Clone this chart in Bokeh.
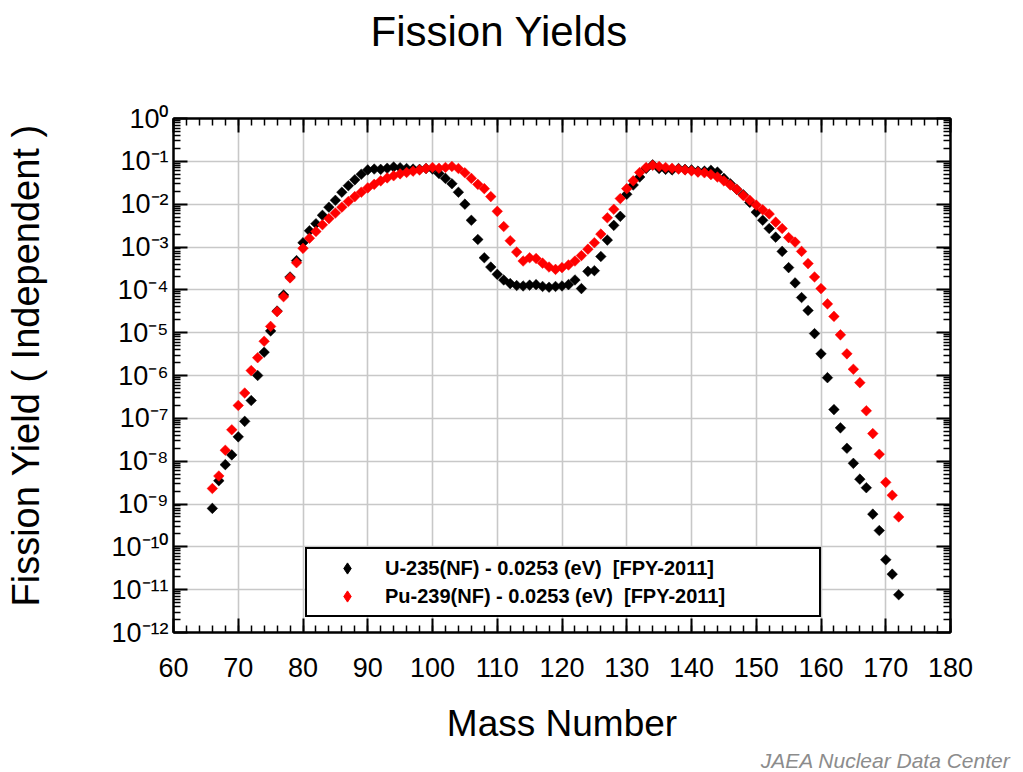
import numpy as np
from bokeh.plotting import figure
from bokeh.models import (LinearAxis, LogAxis, FixedTicker, SingleIntervalTicker,
                          Legend, LegendItem, Range1d, CustomJSTickFormatter, Title)
from bokeh.embed import file_html
from bokeh.resources import INLINE

# ---------------- data ----------------
mass = list(range(66, 173))

u235 = [7.9e-10, 3.5e-9, 8.3e-9, 1.4e-8, 3.7e-8, 8.5e-8, 2.6e-7, 1.0e-6, 3.5e-6, 1.1e-5,
        3.2e-5, 7.6e-5, 2.0e-4, 4.8e-4, 1.26e-3, 2.4e-3, 3.5e-3, 5.5e-3, 8.5e-3, 1.23e-2,
        1.9e-2, 2.7e-2, 3.7e-2, 5.0e-2, 6.3e-2, 6.6e-2, 6.5e-2, 6.9e-2, 7.4e-2, 7.1e-2,
        6.8e-2, 6.6e-2, 6.5e-2, 6.8e-2, 6.6e-2, 5.2e-2, 4.0e-2, 3.0e-2, 1.9e-2, 1.0e-2,
        4.2e-3, 1.5e-3, 5.6e-4, 3.4e-4, 2.3e-4, 1.7e-4, 1.4e-4, 1.26e-4, 1.23e-4, 1.29e-4,
        1.32e-4, 1.2e-4, 1.15e-4, 1.2e-4, 1.23e-4, 1.32e-4, 1.7e-4, 1.07e-4, 2.7e-4, 2.8e-4,
        6.0e-4, 1.45e-3, 3.2e-3, 5.2e-3, 1.7e-2, 2.8e-2, 4.3e-2, 6.8e-2, 8.3e-2, 6.8e-2,
        6.5e-2, 6.3e-2, 6.8e-2, 6.5e-2, 6.3e-2, 5.9e-2, 5.9e-2, 6.2e-2, 5.6e-2, 4.0e-2,
        3.0e-2, 2.2e-2, 1.66e-2, 1.1e-2, 6.5e-3, 4.2e-3, 2.7e-3, 1.7e-3, 7.9e-4, 3.3e-4,
        1.45e-4, 6.6e-5, 3.3e-5, 9.5e-6, 3.2e-6, 8.9e-7, 1.6e-7, 6.0e-8, 2.0e-8, 8.9e-9,
        3.8e-9, 2.4e-9, 5.8e-10, 2.4e-10, 5.0e-11, 2.3e-11, 7.6e-12]

pu239 = [2.3e-9, 4.5e-9, 1.8e-8, 5.4e-8, 2.0e-7, 3.9e-7, 1.3e-6, 2.6e-6, 6.3e-6, 1.4e-5,
         3.1e-5, 6.9e-5, 1.9e-4, 4.3e-4, 9.3e-4, 1.6e-3, 2.3e-3, 3.3e-3, 4.6e-3, 6.2e-3,
         8.5e-3, 1.15e-2, 1.5e-2, 1.9e-2, 2.4e-2, 2.9e-2, 3.5e-2, 4.1e-2, 4.6e-2, 5.1e-2,
         5.5e-2, 5.9e-2, 6.3e-2, 6.8e-2, 7.2e-2, 6.9e-2, 7.2e-2, 7.6e-2, 6.8e-2, 5.4e-2,
         4.0e-2, 2.9e-2, 2.3e-2, 1.5e-2, 6.8e-3, 3.0e-3, 1.4e-3, 7.6e-4, 4.7e-4, 5.6e-4,
         5.4e-4, 4.2e-4, 3.4e-4, 3.0e-4, 3.3e-4, 3.8e-4, 4.7e-4, 6.3e-4, 8.9e-4, 1.26e-3,
         2.0e-3, 4.8e-3, 7.6e-3, 1.35e-2, 2.3e-2, 3.5e-2, 5.5e-2, 7.2e-2, 8.1e-2, 7.6e-2,
         7.2e-2, 6.9e-2, 6.6e-2, 6.3e-2, 6.0e-2, 5.6e-2, 5.4e-2, 4.9e-2, 4.3e-2, 3.5e-2,
         2.8e-2, 2.2e-2, 1.6e-2, 1.23e-2, 9.5e-3, 7.4e-3, 5.9e-3, 3.8e-3, 2.7e-3, 1.66e-3,
         1.3e-3, 7.9e-4, 4.1e-4, 2.0e-4, 1.07e-4, 4.7e-5, 2.4e-5, 8.9e-6, 3.2e-6, 1.4e-6,
         6.8e-7, 1.5e-7, 4.4e-8, 1.45e-8, 3.2e-9, 1.6e-9, 5.0e-10]

series_labels = ["U-235(NF) - 0.0253 (eV)  [FPY-2011]",
                 "Pu-239(NF) - 0.0253 (eV)  [FPY-2011]"]
series_colors = ["#000000", "#ff0000"]
y_exponents = list(range(0, -13, -1))
y_tick_labels = ["10\u2070", "10\u207b\u00b9", "10\u207b\u00b2", "10\u207b\u00b3",
                 "10\u207b\u2074", "10\u207b\u2075", "10\u207b\u2076", "10\u207b\u2077",
                 "10\u207b\u2078", "10\u207b\u2079", "10\u207b\u00b9\u2070",
                 "10\u207b\u00b9\u00b9", "10\u207b\u00b9\u00b2"]
title_text = "Fission Yields"
x_label = "Mass Number"
y_label = "Fission Yield ( Independent )"
credit = "JAEA Nuclear Data Center"

FONT = "Liberation Sans"

# ---------------- figure ----------------
p = figure(width=1015, height=772, x_range=Range1d(60, 180), y_range=Range1d(1e-12, 1),
           y_axis_type="log", output_backend="svg", toolbar_location=None,
           min_border_left=173, min_border_right=65, min_border_top=118, min_border_bottom=140)
p.background_fill_color = "white"
p.border_fill_color = "white"
p.outline_line_color = "black"
p.outline_line_width = 2

major_y = [10.0 ** e for e in y_exponents]
minor_y = [m * 10.0 ** e for e in range(-12, 0) for m in range(2, 10)]

def style_axis(ax, show_labels):
    ax.axis_line_color = "black"
    ax.axis_line_width = 2
    ax.major_tick_in = 14
    ax.major_tick_out = 0
    ax.minor_tick_in = 7
    ax.minor_tick_out = 0
    ax.major_tick_line_color = "black"
    ax.major_tick_line_width = 2
    ax.minor_tick_line_color = "black"
    ax.minor_tick_line_width = 1.5
    if not show_labels:
        ax.axis_label = None
        ax.formatter = CustomJSTickFormatter(code="return '';")
        ax.major_label_text_font_size = "1px"
        ax.major_label_standoff = 0

# bottom axis
xa = p.xaxis[0]
xa.ticker = SingleIntervalTicker(interval=10, num_minor_ticks=5)
style_axis(xa, True)
xa.major_label_text_font = FONT
xa.major_label_text_font_size = "27px"
xa.major_label_text_color = "black"
xa.major_label_standoff = 25
xa.axis_label = x_label
xa.axis_label_text_font = FONT
xa.axis_label_text_font_size = "37px"
xa.axis_label_text_font_style = "normal"
xa.axis_label_text_color = "black"
xa.axis_label_standoff = 23

# left axis (a blank axis label only reserves room before the y title)
ya = p.yaxis[0]
ya.ticker = FixedTicker(ticks=major_y, minor_ticks=minor_y)
style_axis(ya, True)
ya.formatter = CustomJSTickFormatter(args=dict(labels=y_tick_labels),
                                     code="return labels[Math.round(-Math.log10(tick))];")
ya.major_label_text_font = FONT
ya.major_label_text_font_size = "27px"
ya.major_label_text_color = "black"
ya.major_label_standoff = 5
ya.axis_label = " "
ya.axis_label_text_font_size = "10px"
ya.axis_label_standoff = 46

p.add_layout(Title(text=y_label, align="left", offset=26, standoff=4,
                   text_font=FONT, text_font_size="38px", text_font_style="normal",
                   text_color="black"), "left")

# top axis (blank axis label reserves room below the title)
top = LinearAxis(ticker=SingleIntervalTicker(interval=10, num_minor_ticks=5))
style_axis(top, False)
top.axis_label = " "
top.axis_label_text_font_size = "10px"
top.axis_label_standoff = 47
p.add_layout(top, "above")

right = LogAxis(ticker=FixedTicker(ticks=major_y, minor_ticks=minor_y))
style_axis(right, False)
p.add_layout(right, "right")

p.xgrid.ticker = SingleIntervalTicker(interval=10)
p.ygrid.ticker = FixedTicker(ticks=major_y)
for g in (p.xgrid[0], p.ygrid[0]):
    g.grid_line_color = "#c8c8c8"
    g.grid_line_width = 1.6

# ---------------- data marks ----------------
renderers = []
for vals, col in zip([u235, pu239], series_colors):
    r = p.scatter(mass, vals, marker="square", angle=np.pi / 4, size=7.5,
                  fill_color=col, line_color=col, line_width=0.5)
    renderers.append(r)

# legend glyphs (diamonds; legend swatches are not rotated)
legend_glyphs = []
for col in series_colors:
    lg = p.scatter(x=[np.nan], y=[np.nan], marker="diamond", size=14,
                   fill_color=col, line_color=col)
    legend_glyphs.append(lg)

legend = Legend(items=[LegendItem(label=lab, renderers=[r]) for lab, r in zip(series_labels, legend_glyphs)],
                location=(132, 15), orientation="vertical",
                border_line_color="black", border_line_width=2, border_line_alpha=1.0,
                background_fill_color="white", background_fill_alpha=1.0,
                label_text_font=FONT, label_text_font_style="bold",
                label_text_font_size="20px", label_text_color="black",
                padding=5, spacing=0, margin=0,
                glyph_width=70, glyph_height=28, label_height=20,
                label_width=429, label_standoff=3)
p.add_layout(legend)

# ---------------- title and credit ----------------
p.title.text = title_text
p.title.align = "left"
p.title.offset = 197
p.title.text_font = FONT
p.title.text_font_size = "42px"
p.title.text_font_style = "normal"
p.title.text_color = "black"
p.title.standoff = 6

p.add_layout(Title(text=credit, align="right", offset=-60, standoff=0,
                   text_font=FONT, text_font_size="21px", text_font_style="italic",
                   text_color="#8c8c8c"), "below")

open("out.html", "w").write(file_html(p, INLINE))
